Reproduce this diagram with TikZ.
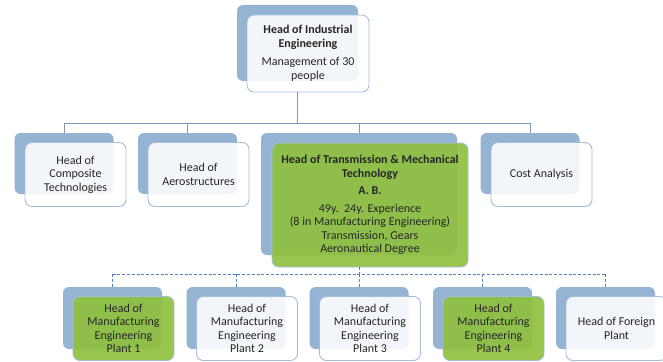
\documentclass[tikz,border=0pt]{standalone}
\usepackage{fontspec}
\setmainfont{Carlito}
\usetikzlibrary{positioning}
\definecolor{backblue}{HTML}{95B3D3}
\definecolor{rimblue}{HTML}{A3BEDB}
\definecolor{leaf}{HTML}{8FC03F}
\definecolor{linkgray}{HTML}{7E97B2}
\definecolor{dashblue}{HTML}{4F81BD}
\definecolor{ink}{HTML}{262626}
\tikzset{
  back/.style = {rectangle, rounded corners=6pt, fill=backblue,
                 minimum width=99pt, minimum height=62pt, inner sep=0pt},
  card/.style = {rectangle, rounded corners=7pt, draw=rimblue, line width=0.9pt,
                 fill=white, fill opacity=0.88, text opacity=1, text=ink, align=center,
                 minimum width=101pt, minimum height=64pt, inner sep=2pt,
                 font=\fontsize{12}{13.5}\selectfont},
  greencard/.style = {card, fill=leaf, fill opacity=0.92},
  link/.style = {draw=linkgray, line width=0.9pt},
  dashlink/.style = {draw=dashblue, line width=0.9pt, dash pattern=on 3pt off 1.8pt}
}
\begin{document}
\begin{tikzpicture}[x=1pt,y=-1pt]
  \useasboundingbox (0,0) rectangle (663,361);
  % back plates
  \node[back, minimum width=121pt, minimum height=76pt] (indb) at (297.5,43) {};
  \node[back, minimum height=61pt] (compb) at (64,163.5) {};
  \node[back, minimum height=61pt] (aerob) at (187.5,163.5) {};
  \node[back, minimum width=196pt, minimum height=122pt] (transb) at (359,194) {};
  \node[back, minimum height=61pt] (costb) at (530,163.5) {};
  \node[back] (p1b) at (112.5,318) {};
  \node[back] (p2b) at (236,318) {};
  \node[back] (p3b) at (359,318) {};
  \node[back] (p4b) at (482.5,318) {};
  \node[back] (forb) at (605.5,318) {};
  % cards
  \node[card, minimum width=122pt, minimum height=77pt] (ind) at (308,53.5)
    {\textbf{Head of Industrial}\\\textbf{Engineering}\\[5pt]Management of 30\\people};
  \node[card] (comp) at (75.5,174.5) {Head of\\Composite\\Technologies};
  \node[card] (aero) at (198.5,174.5) {Head of\\Aerostructures};
  \node[greencard, minimum width=196pt, minimum height=124pt] (trans) at (370,205)
    {\textbf{Head of Transmission \& Mechanical}\\\textbf{Technology}\\[4pt]
     \textbf{A. B.}\\[4pt]49y.\ \ 24y. Experience\\(8 in Manufacturing Engineering)\\
     Transmission, Gears\\Aeronautical Degree};
  \node[card] (cost) at (541.5,174.5) {Cost Analysis};
  \node[greencard] (p1) at (123.5,328.5) {Head of\\Manufacturing\\Engineering\\Plant 1};
  \node[card] (p2) at (247,328.5) {Head of\\Manufacturing\\Engineering\\Plant 2};
  \node[card] (p3) at (370,328.5) {Head of\\Manufacturing\\Engineering\\Plant 3};
  \node[greencard] (p4) at (493.5,328.5) {Head of\\Manufacturing\\Engineering\\Plant 4};
  \node[card] (for) at (616.5,328.5) {Head of Foreign\\Plant};
  % solid links
  \coordinate (bus) at (0,123);
  \draw[link] (indb |- ind.south) -- (indb |- bus);
  \draw[link] (compb |- bus) -- (costb |- bus);
  \foreach \k in {compb,aerob,transb,costb}
    \draw[link] (\k |- bus) -- (\k.north);
  % dashed links
  \coordinate (dbus) at (0,274);
  \draw[dashlink] (transb |- trans.south) -- (transb |- dbus);
  \draw[dashlink] (p1b |- dbus) -- (forb |- dbus);
  \foreach \k in {p1b,p2b,p3b,p4b,forb}
    \draw[dashlink] (\k |- dbus) -- (\k.north);
\end{tikzpicture}
\end{document}
